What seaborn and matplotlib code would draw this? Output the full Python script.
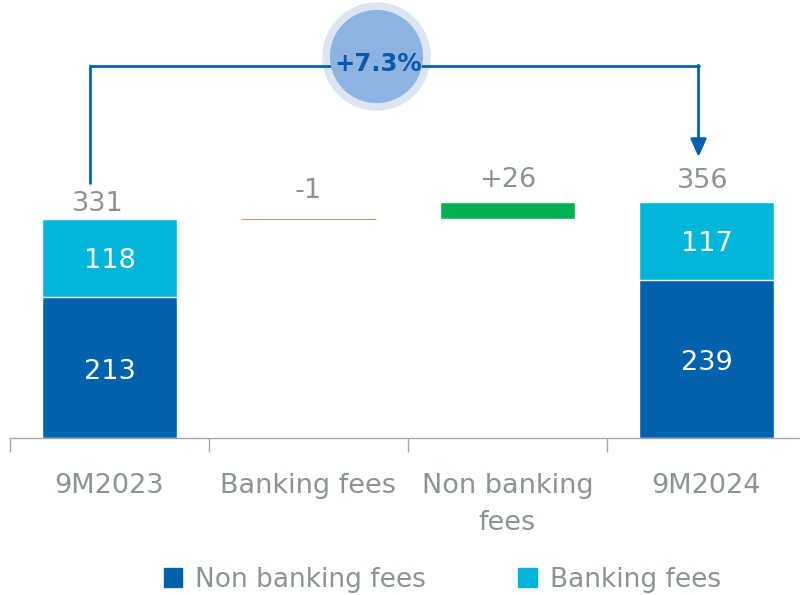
import numpy as np
import pandas as pd
import seaborn as sns
import matplotlib.pyplot as plt
from matplotlib.patches import Patch

# data
categories = ['9M2023', 'Banking fees', 'Non banking\nfees', '9M2024']
non_banking = [213, 0, 0, 239]
banking = [118, 0, 0, 117]
totals = [331, 0, 0, 356]
deltas = [-1, 26]
delta_labels = ['-1', '+26']
growth_label = '+7.3%'

dark_blue = '#0061AC'
cyan = '#00B6D8'
green = '#00B050'
orange = '#C8844A'
grey = '#8C9396'
fs = 19.5

sns.set_theme(style='white')
plt.rcParams['font.family'] = ['DejaVu Sans']

df = pd.DataFrame({'cat': categories, 'total': totals, 'nonbank': non_banking})

fig = plt.figure(figsize=(8, 5.95), dpi=100)
ax = fig.add_axes([0.0125, 0.264, 0.9875, 0.736])

# stacked bars: total in cyan, non banking drawn over it in dark blue
sns.barplot(data=df, x='cat', y='total', order=categories, color=cyan,
            width=0.675, saturation=1, ax=ax)
sns.barplot(data=df, x='cat', y='nonbank', order=categories, color=dark_blue,
            width=0.675, saturation=1, ax=ax)

# waterfall steps
ax.bar(1, abs(deltas[0]), bottom=totals[0] + min(deltas[0], 0), width=0.675,
       color=orange, edgecolor=orange, linewidth=0.6)
ax.bar(2, deltas[1], bottom=totals[0] + deltas[0], width=0.675, color=green)

# labels inside stacked bars + totals
total_dx = [-0.06, -0.02]
total_dy = [3, 12]
for k, i in enumerate([0, 3]):
    ax.text(i, non_banking[i] / 2 - 7, str(non_banking[i]), ha='center', va='center',
            color='white', fontsize=fs)
    ax.text(i, non_banking[i] + banking[i] / 2 - 5, str(banking[i]), ha='center',
            va='center', color='white', fontsize=fs)
    ax.text(i + total_dx[k], totals[i] + total_dy[k], str(totals[i]), ha='center',
            va='bottom', color=grey, fontsize=fs)

step_tops = [totals[0], totals[0] + deltas[0] + deltas[1]]
step_dy = [22, 14]
for j, i in enumerate([1, 2]):
    ax.text(i, step_tops[j] + step_dy[j], delta_labels[j], ha='center', va='bottom',
            color=grey, fontsize=fs)

# growth connector
line_y = 561
ax.plot([-0.1, -0.1, 2.96], [385, line_y, line_y], color=dark_blue,
        lw=2, solid_joinstyle='miter', zorder=3.5)
ax.annotate('', xy=(2.96, totals[3] + 68), xytext=(2.96, line_y + 1.5),
            arrowprops=dict(arrowstyle='-|>,head_length=0.9,head_width=0.4',
                            color=dark_blue, lw=2, shrinkA=0, shrinkB=0))
ax.scatter([1.34], [576], s=6100, color='#DCE6F2', zorder=3, linewidths=0)
ax.scatter([1.34], [576], s=4500, color='#8DB3E2', zorder=4, linewidths=0)
ax.text(1.35, line_y + 3, growth_label, ha='center', va='center', color='#0B58A6',
        fontsize=17.5, fontweight='bold', zorder=5)

ax.set_ylim(0, 661)
ax.set_xlim(-0.5, 3.47)
ax.set_xlabel('')
ax.set_ylabel('')
ax.set_yticks([])
for s in ['top', 'right', 'left']:
    ax.spines[s].set_visible(False)
ax.spines['bottom'].set_color('#A6A6A6')
ax.spines['bottom'].set_linewidth(1)

ax.set_xticks(range(4))
ax.set_xticklabels(categories, color=grey, fontsize=fs, linespacing=1.55)
ax.tick_params(axis='x', which='major', length=0, pad=25)
ax.set_xticks([-0.5, 0.5, 1.5, 2.5], minor=True)
ax.tick_params(axis='x', which='minor', length=10, width=1, color='#A6A6A6',
               direction='out', bottom=True)

handles = [Patch(color=dark_blue, label='Non banking fees'),
           Patch(color=cyan, label='Banking fees')]
leg = fig.legend(handles=handles, loc='center', bbox_to_anchor=(0.553, 0.026),
                 ncol=2, frameon=False, fontsize=19, handlelength=0.7,
                 handleheight=0.7, handletextpad=0.5, columnspacing=3.5)
for t in leg.get_texts():
    t.set_color(grey)

fig.savefig('out.png', dpi=100)
